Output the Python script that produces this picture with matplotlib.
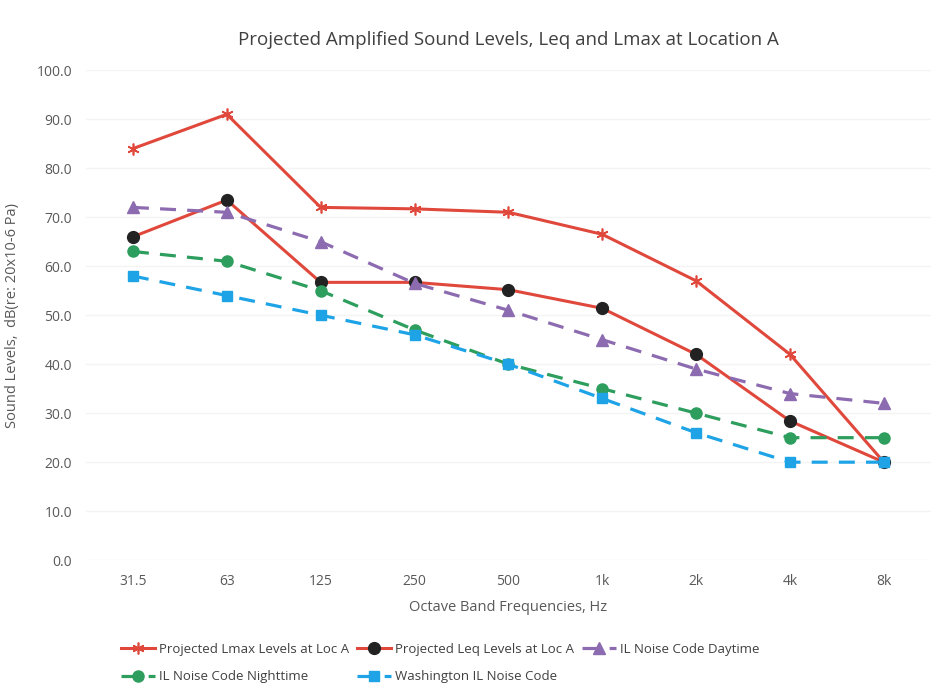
import matplotlib.pyplot as plt
import numpy as np

plt.rcParams["font.family"] = ["Open Sans", "DejaVu Sans"]

bands = ["31.5", "63", "125", "250", "500", "1k", "2k", "4k", "8k"]
lmax_loc_a = [84, 91, 72, 71.7, 71, 66.5, 57, 42, 20]
leq_loc_a = [66, 73.5, 56.7, 56.7, 55.2, 51.4, 42, 28.4, 20]
il_day = [72, 71, 65, 56.5, 51, 45, 39, 34, 32]
il_night = [63, 61, 55, 47, 40, 35, 30, 25, 25]
washington = [58, 54, 50, 46, 40, 33, 26, 20, 20]

red = "#e0483c"
purple = "#8d6bb0"
green = "#2e9e5e"
blue = "#1ea4e6"
text_col = "#595959"

fig = plt.figure(figsize=(9.45, 6.95), dpi=100)
ax = fig.add_axes([0.091, 0.194, 0.894, 0.705])
x = np.arange(len(bands))

# series drawn in order, later ones on top
l1, = ax.plot(x, lmax_loc_a, color=red, lw=2.2, marker=(6, 2, 0), ms=8.5,
              mew=1.2, mec=red, label="Projected Lmax Levels at Loc A", zorder=3)
l2, = ax.plot(x, leq_loc_a, color=red, lw=2.2, marker="o", ms=8.5,
              mfc="#222222", mec="#222222", label="Projected Leq Levels at Loc A", zorder=3)
l3, = ax.plot(x, il_day, color=purple, lw=2.3, ls=(0, (5, 3.5)), marker="^", ms=8,
              mfc=purple, mec=purple, label="IL Noise Code Daytime", zorder=3)
l4, = ax.plot(x, il_night, color=green, lw=2.3, ls=(0, (5, 3.5)), marker="o", ms=8,
              mfc=green, mec=green, label="IL Noise Code Nighttime", zorder=3)
l5, = ax.plot(x, washington, color=blue, lw=2.3, ls=(0, (5, 3.5)), marker="s", ms=7.5,
              mfc=blue, mec=blue, label="Washington IL Noise Code", zorder=3)

ax.set_xlim(-0.5, len(bands) - 0.5)
ax.set_ylim(0, 100)
ax.set_yticks(np.arange(0, 101, 10))
ax.set_yticklabels([f"{v:.1f}" for v in np.arange(0, 101, 10)])
ax.set_xticks(x)
ax.set_xticklabels(bands)
ax.tick_params(length=0, labelsize=10, colors=text_col, pad=10)
ax.yaxis.grid(True, color="#f4f4f4", lw=1)
ax.set_axisbelow(True)
for s in ax.spines.values():
    s.set_visible(False)

ax.set_title("Projected Amplified Sound Levels, Leq and Lmax at Location A",
             fontsize=13.5, color="#404040", pad=18)
ax.set_xlabel("Octave Band Frequencies, Hz", fontsize=10.5, color=text_col, labelpad=8)
ax.set_ylabel("Sound Levels,  dB(re: 20x10-6 Pa)", fontsize=10.5, color=text_col, labelpad=12)

handles = [l1, l4, l2, l5, l3]
fig.legend(handles=handles, labels=[h.get_label() for h in handles], ncol=3,
           loc="lower left", bbox_to_anchor=(0.115, 0.0), frameon=False,
           fontsize=9.5, labelcolor="#404040", handlelength=2.6, handletextpad=0.3,
           columnspacing=0.6, labelspacing=1.1)

fig.savefig("out.png", dpi=100)
